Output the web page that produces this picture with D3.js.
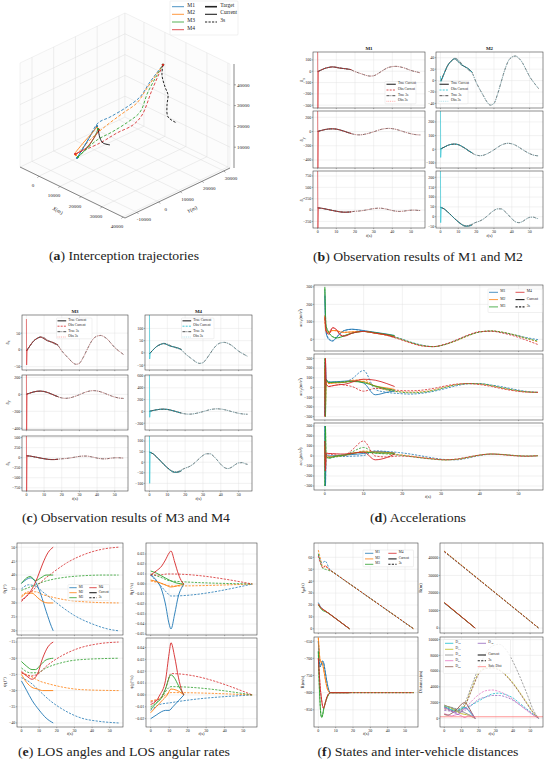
<!DOCTYPE html>
<html>
<head>
<meta charset="utf-8">
<script src="https://cdn.jsdelivr.net/npm/d3@7"></script>
<style>
  body { margin: 0; background: #fff; }
  svg, text { font-family: "Liberation Serif", "DejaVu Serif", serif; }
  text { fill: #222; }
</style>
</head>
<body>
<script>
// ---------------- (a) 3D trajectories, points are [x, y, z] in metres ----------------
const traj3s = [
  [[2500,-380,2440],[5150,2130,11150],[7800,4160,19600],[10450,7100,22300],[13050,12420,25800],[15700,15850,30200],[18350,17880,37700],[21000,21300,45500]],
  [[2500,-865,4100],[5600,3960,11900],[8650,7490,17400],[11750,11840,22500],[14850,15270,27200],[17900,16960,35000],[21000,21300,45500]],
  [[2500,60,2700],[5600,5800,9500],[8650,9760,12900],[11750,14160,17100],[14850,16670,22100],[17900,17390,32900],[21000,21300,45500]],
  [[2500,-1300,4800],[5600,7200,7400],[8650,12080,11300],[11750,16430,14500],[14850,17590,20200],[17900,19230,32900],[21000,21300,45500]]
];
const trajCur = [
  [[2500,-380,2440],[4000,1840,8300],[5500,3630,13900],[7000,4450,17600]],
  [[2500,-1300,5300],[4000,1400,10000],[5000,4110,13400],[6500,4930,16700]],
  [[2500,60,2700],[4000,3240,6700],[5500,4980,11800],[7000,4930,15900]],
  [[2500,-1300,4800],[4000,2320,6600],[5500,4540,11100],[7000,5370,15300]]
];
const targetCur = [[7000,4930,16400],[7500,5370,11600],[8000,6240,9100],[9000,8500,7500]];
const target3s = [[21000,21300,45500],[21500,20340,41400],[22000,21260,35400],[22500,22170,31300],[23000,21210,27200],[24000,20730,22200],[25000,23860,18200]];
const xTicks3 = [0, 10000, 20000, 30000, 40000];
const yTicks3 = [-10000, 0, 10000, 20000, 30000];
const zTicks3 = [10000, 20000, 30000, 40000];

// ---------------- (b)(c) target acceleration, true values ----------------
const tTgt = [0,2,4,6,8,10,12,14,16,18,20,22,24,26,28,30,32,34,36,38,40,42,44,46,48,50,52,54,55];
const axTgt3s = [-3,12,26,34,39,36,29,23,18,12,-3,-15,-26,-37,-43,-40,-24,-3,18,34,41,43,39,31,19,7,-2,-10,-14];
const ayTgt3s = [2,15,28,36,38,33,20,4,-14,-30,-42,-47,-44,-34,-20,-4,14,30,40,44,40,30,15,-2,-18,-32,-42,-47,-48];
const azTgt3s = [48,40,25,8,-10,-25,-38,-45,-44,-36,-28,-22,-12,2,18,32,40,40,28,10,-10,-25,-30,-24,-12,-3,-2,-8,-10];
const tTgtCur = [0,2,4,6,8,10,12,14,16,18];
const axTgtCur = [-3,12,26,34,38,33,27,24,20,14];
const ayTgtCur = [2,15,28,36,38,34,22,6,-12,-28];
const azTgtCur = [48,40,25,8,-10,-26,-40,-48,-47,-40];
// observer start transients [high, low] for rows x, y, z
const spikeM1 = [[175,-330],[290,-515],[860,-400]];
const spikeM2 = [[8,-14],[285,-60],[235,-30]];
const spikeM3 = [[92,-45],[230,-425],[545,-835]];
const spikeM4 = [[160,-25],[620,-100],[130,-100]];

// ---------------- (d) missile accelerations ----------------
const tD3s = [0,0.15,0.3,1,2,3,4,5,7,10,13,16,19,22,25,28,31,34,37,40,43,46,49,52,55];
const tDCur = [0,0.15,0.3,1,2,3,4,5,7,10,13,16,18];
const accXCur = [
  [250,100,40,0,-10,10,35,50,58,50,40,30,22],
  [130,60,45,40,50,50,42,40,42,45,35,25,18],
  [300,150,80,40,15,8,12,20,35,45,38,28,20],
  [130,90,50,30,65,55,25,18,35,45,35,25,12]
];
const accX3s = [
  [280,120,50,5,-8,12,35,50,57,48,38,25,8,-15,-33,-42,-30,-5,22,42,47,38,25,10,-2],
  [140,70,50,45,50,48,42,40,42,45,36,24,5,-18,-36,-42,-30,-8,20,42,48,40,25,5,-15],
  [290,150,80,40,15,8,12,20,35,45,36,24,6,-16,-35,-42,-30,-6,22,42,48,40,25,6,-10],
  [120,80,50,30,68,55,25,20,35,45,35,22,2,-20,-38,-42,-28,-3,25,44,46,35,18,-5,-30]
];
const accYCur = [
  [-280,250,80,55,58,60,62,65,70,45,-75,-50,-35],
  [200,-200,60,40,45,48,50,52,70,60,15,-5,-20],
  [300,-300,80,50,52,54,55,56,62,50,15,-15,-30],
  [-300,300,40,10,18,25,30,32,55,85,75,40,10]
];
const accY3s = [
  [-290,260,90,60,55,52,50,52,90,175,-20,-50,-62,-68,-60,-40,-12,18,38,40,25,5,-20,-40,-50],
  [200,-210,70,40,45,48,50,55,75,80,10,-25,-42,-48,-44,-25,5,30,40,36,18,-8,-30,-45,-50],
  [300,-300,80,50,52,54,55,58,65,60,10,-25,-45,-55,-50,-32,0,28,40,38,20,-5,-28,-45,-50],
  [-300,300,40,10,18,25,30,25,10,-38,-10,-15,-30,-34,-28,-10,15,35,40,30,10,-15,-35,-48,-50]
];
const accZCur = [
  [300,-300,20,0,2,5,8,10,15,25,45,40,30],
  [100,-100,10,-10,-5,0,5,10,25,40,40,35,30],
  [-300,300,0,-20,-10,0,5,10,25,40,30,30,25],
  [150,-150,30,25,24,22,20,20,28,38,-38,-15,20]
];
const accZ3s = [
  [300,-300,10,-10,-8,-6,-5,-5,-2,5,52,45,35,20,0,-20,-35,-38,-20,5,18,15,5,0,3],
  [150,-150,10,-15,-10,-5,0,5,20,50,35,25,15,0,-15,-28,-38,-35,-15,8,20,15,5,0,3],
  [-300,300,0,-25,-15,-8,-2,5,40,85,30,20,10,-5,-20,-32,-40,-32,-12,10,20,14,4,-2,2],
  [150,-150,25,20,15,10,5,5,60,150,0,-10,0,-5,-18,-30,-38,-30,-10,10,20,12,2,-3,2]
];

// ---------------- (e) LOS angles [t, value] ----------------
const thetaCur = [
  [[0,37],[3,38.5],[5,39],[8,37.5],[11,33],[14,27],[17,21.5],[18,20]],
  [[0,32],[3,33.5],[6,33.5],[9,32],[12,30.5],[15,30],[18,30]],
  [[0,37],[3,39],[5,39.5],[8,38],[11,39],[14,40],[18,40]],
  [[0,31],[3,32.5],[6,35],[9,39],[12,44],[15,48],[18,50]]
];
const theta3s = [
  [[0,35],[4,36.5],[8,36],[12,34],[16,32],[22,29],[30,25.5],[40,22.5],[50,20.5],[55,20]],
  [[0,32.5],[4,34],[8,34],[12,33],[18,32],[26,31],[36,30.4],[46,30.1],[55,30]],
  [[0,34.5],[4,35.5],[8,36.5],[12,37.5],[18,38.5],[26,39.3],[36,39.8],[46,40],[55,40]],
  [[0,30.5],[4,33],[8,35.5],[12,38],[18,41],[26,44.5],[36,47.5],[46,49.3],[55,50]]
];
const thetaRateCur = [
  [[0,0.009],[3,0.004],[6,-0.006],[8,-0.02],[10,-0.04],[11,-0.045],[13,-0.03],[15,-0.012],[17,-0.003],[18,0]],
  [[0,0.004],[4,0.002],[8,-0.001],[11,-0.003],[14,-0.002],[18,0]],
  [[0,0.013],[3,0.011],[6,0.008],[10,0.004],[14,0.001],[18,0]],
  [[0,0.009],[3,0.013],[6,0.018],[8,0.024],[10,0.031],[11,0.033],[13,0.022],[15,0.01],[17,0.002],[18,0]]
];
const thetaRate3s = [
  [[0,0.009],[3,0.003],[6,-0.003],[9,-0.009],[11,-0.012],[55,0]],
  [[0,0.003],[5,0.001],[11,-0.002],[55,0]],
  [[0,0.01],[5,0.007],[11,0.003],[55,0]],
  [[0,0.009],[5,0.009],[9,0.01],[11,0.01],[55,0]]
];
const psiCur = [
  [[0,-27],[3,-30],[6,-33],[10,-36],[14,-38.5],[18,-40]],
  [[0,-25],[3,-27.5],[6,-29],[9,-29.5],[12,-30],[18,-30]],
  [[0,-21],[3,-22.5],[6,-23.5],[8,-23.5],[11,-22],[14,-20.5],[18,-20]],
  [[0,-24],[3,-25.5],[6,-26.5],[9,-25],[12,-20],[15,-16.5],[18,-15]]
];
const psi3s = [
  [[0,-26],[5,-27.5],[10,-30],[16,-33],[24,-36],[34,-38.5],[44,-39.5],[55,-40]],
  [[0,-24.5],[5,-25.5],[10,-27],[16,-28],[24,-29],[34,-29.7],[55,-30]],
  [[0,-23],[5,-24.5],[9,-24.5],[14,-23],[22,-21.5],[32,-20.5],[55,-20]],
  [[0,-24.5],[5,-25.5],[9,-25],[14,-22.5],[22,-19.5],[32,-17],[44,-15.5],[55,-15]]
];
const psiRateCur = [
  [[0,-0.02],[3,-0.017],[6,-0.014],[8,-0.013],[10,-0.013],[12,-0.01],[15,-0.005],[18,0]],
  [[0,-0.015],[3,-0.01],[6,-0.005],[9,0],[11,0.005],[14,0.004],[18,0]],
  [[0,-0.012],[3,-0.007],[6,-0.002],[8,0.005],[11,0.017],[13,0.014],[15,0.008],[18,0]],
  [[0,-0.008],[3,-0.005],[5,0],[8,0.012],[10,0.035],[11,0.044],[13,0.032],[15,0.015],[17,0.003],[18,0]]
];
const psiRate3s = [
  [[0,-0.013],[5,-0.008],[11,-0.0065],[15,-0.0055],[55,0]],
  [[0,-0.005],[5,-0.003],[11,0.002],[55,0]],
  [[0,-0.01],[5,-0.004],[11,0.007],[55,0]],
  [[0,-0.006],[5,-0.003],[8,0.005],[11,0.018],[55,0]]
];

// ---------------- (f) states and distances [t, value] ----------------
const tgoCur = [
  [[0,22],[1,19],[2,17],[3,16],[4,15],[6,13],[18,0]],
  [[0,21],[1,18],[2,16.5],[3,16],[4,15],[6,13],[18,0]],
  [[0,20],[1,18],[2,16],[3,15],[4,14.5],[6,13],[18,0]],
  [[0,20.5],[1,18.5],[2,17],[3,16],[4,15],[6,13],[18,0]]
];
const tgo3s = [
  [[0,62],[1,58],[2,55],[3,56],[4,57],[5,55],[6,51],[8,48],[55,0]],
  [[0,66],[1,60],[2,54],[3,52],[4,53],[5,51],[6,50],[8,48],[55,0]],
  [[0,63],[1,57],[2,52],[3,50],[4,50],[5,49.5],[6,49],[8,48],[55,0]],
  [[0,61],[1,56],[2,52],[3,51],[4,53],[5,52],[6,50],[8,48],[55,0]]
];
const rangeCur = [[[0,14300],[18,0]],[[0,14600],[18,0]],[[0,14400],[18,0]],[[0,14500],[18,0]]];
const range3s = [[[0,43500],[55,0]],[[0,43900],[55,0]],[[0,43700],[55,0]],[[0,43600],[55,0]]];
const rdotStart = [
  [[0,-650],[0.5,-700],[1,-725],[1.5,-720],[2,-712],[2.5,-708],[3,-712],[4,-740],[5,-770],[6,-792],[7,-800]],
  [[0,-640],[0.5,-680],[1,-705],[1.5,-712],[2,-710],[2.5,-718],[3,-730],[4,-760],[5,-785],[6,-797],[7,-800]],
  [[0,-680],[0.5,-770],[1,-830],[1.5,-865],[2,-872],[2.5,-865],[3,-850],[4,-830],[5,-815],[6,-805],[7,-800]],
  [[0,-700],[0.5,-740],[1,-780],[1.5,-805],[2,-825],[2.5,-840],[3,-845],[4,-830],[5,-812],[6,-803],[7,-800]]
];
const rdotFinal = -800;
const distNames = ['D_{12}','D_{13}','D_{14}','D_{23}','D_{24}','D_{34}'];
const distColors = ['#17becf','#bcbd22','#8c8c8c','#e377c2','#8c564b','#9467bd'];
const tDist3s = [0,4,8,12,16,20,24,28,32,36,40,44,48,52,55];
const dist3s = [
  [1500,1300,1100,1300,1700,2200,2700,3100,3200,3000,2600,1900,1200,500,0],
  [1400,1200,1000,1700,3800,5800,6400,6500,6200,5500,4500,3300,2000,700,0],
  [1600,1400,1200,2000,4200,6400,8200,9200,9400,8700,7200,5300,3200,1000,0],
  [1300,1100,800,1200,2200,3000,3500,3600,3400,3000,2400,1700,1000,400,0],
  [1200,1000,900,1600,3600,5600,6300,6400,6100,5400,4400,3200,1900,650,0],
  [1000,900,700,1000,1700,2400,2700,2900,2900,2700,2300,1700,1100,400,0]
];
const tDistCur = [0,2,4,6,8,10,12,14,16,18];
const distCur = [
  [1500,1300,1100,1000,900,1300,1400,1000,500,0],
  [1600,1500,1300,1100,800,600,500,400,200,0],
  [1700,1500,1400,1200,1000,900,700,500,300,0],
  [600,450,300,400,500,300,100,300,250,0],
  [500,400,600,900,1300,1800,2000,1500,700,0],
  [1400,1200,900,700,500,900,1300,1100,600,0]
];
const safeDist = 200;

// ================= drawing =================
const SERIF = '"Liberation Serif", "DejaVu Serif", serif';
const svg = d3.select('body').append('svg').attr('width', 550).attr('height', 762).attr('font-family', SERIF);
const defs = svg.append('defs');
const COL = ['#1f77b4', '#ff7f0e', '#2ca02c', '#d62728'];
const DASH = '2.2,1.3';
const T_DOM = [-2.5, 57.5];
const T_TICKS = [0, 10, 20, 30, 40, 50];
const TICK_FS = 4;

// text with _{sub} parts
function rich(sel, str, fs) {
  const parts = str.split(/(_\{[^}]*\})/).filter(s => s.length);
  let down = false;
  parts.forEach(p => {
    if (p.startsWith('_{')) {
      sel.append('tspan').attr('font-size', fs * 0.72).attr('dy', fs * 0.3).text(p.slice(2, -1));
      down = true;
    } else {
      sel.append('tspan').attr('dy', down ? -fs * 0.3 : 0).text(p);
      down = false;
    }
  });
  return sel;
}

let clipN = 0;
function axes(xr, yr, xDom, yDom, o) {
  o = Object.assign({ xTicks: T_TICKS, yTicks: [], xLabels: false, fmt: d3.format('d') }, o);
  const [x0, x1] = xr, [y0, y1] = yr;
  const x = d3.scaleLinear().domain(xDom).range([x0, x1]);
  const y = d3.scaleLinear().domain(yDom).range([y1, y0]);
  const back = svg.append('g');
  back.append('rect').attr('x', x0).attr('y', y0).attr('width', x1 - x0).attr('height', y1 - y0).attr('fill', '#fff');
  back.selectAll(null).data(o.xTicks).join('line')
    .attr('x1', d => x(d)).attr('x2', d => x(d)).attr('y1', y0).attr('y2', y1)
    .attr('stroke', '#e2e2e2').attr('stroke-width', 0.45);
  back.selectAll(null).data(o.yTicks).join('line')
    .attr('y1', d => y(d)).attr('y2', d => y(d)).attr('x1', x0).attr('x2', x1)
    .attr('stroke', '#e2e2e2').attr('stroke-width', 0.45);
  const id = 'clip' + clipN++;
  defs.append('clipPath').attr('id', id).append('rect')
    .attr('x', x0).attr('y', y0).attr('width', x1 - x0).attr('height', y1 - y0);
  const plot = svg.append('g').attr('clip-path', `url(#${id})`);
  const front = svg.append('g');
  front.append('rect').attr('x', x0).attr('y', y0).attr('width', x1 - x0).attr('height', y1 - y0)
    .attr('fill', 'none').attr('stroke', '#444').attr('stroke-width', 0.6);
  front.selectAll(null).data(o.xTicks).join('line')
    .attr('x1', d => x(d)).attr('x2', d => x(d)).attr('y1', y1).attr('y2', y1 + 1.2)
    .attr('stroke', '#444').attr('stroke-width', 0.4);
  front.selectAll(null).data(o.yTicks).join('line')
    .attr('y1', d => y(d)).attr('y2', d => y(d)).attr('x1', x0 - 1.2).attr('x2', x0)
    .attr('stroke', '#444').attr('stroke-width', 0.4);
  if (o.xLabels) {
    front.selectAll(null).data(o.xTicks).join('text')
      .attr('x', d => x(d)).attr('y', y1 + 5).attr('text-anchor', 'middle')
      .attr('font-size', TICK_FS).text(d => d3.format('d')(d));
  }
  front.selectAll(null).data(o.yTicks).join('text')
    .attr('x', x0 - 1.8).attr('y', d => y(d)).attr('dy', '0.35em').attr('text-anchor', 'end')
    .attr('font-size', TICK_FS).text(d => o.fmt(d));
  return { x, y, plot, front };
}

function draw(ax, pts, color, width, dash, curve) {
  ax.plot.append('path').datum(pts)
    .attr('d', d3.line().x(d => ax.x(d[0])).y(d => ax.y(d[1])).curve(curve || d3.curveMonotoneX))
    .attr('fill', 'none').attr('stroke', color).attr('stroke-width', width)
    .attr('stroke-dasharray', dash || null).attr('stroke-linejoin', 'round');
}

function ylabel(x, yc, str, fs) {
  rich(svg.append('text').attr('transform', `translate(${x},${yc}) rotate(-90)`)
    .attr('text-anchor', 'middle').attr('font-size', fs), str, fs);
}
function xlabel(xc, y, fs) {
  const t = svg.append('text').attr('x', xc).attr('y', y).attr('text-anchor', 'middle').attr('font-size', fs);
  t.append('tspan').attr('font-style', 'italic').text('t');
  t.append('tspan').text('(s)');
}

function legend(box, colX, rowY, len, fs, items) {
  const g = svg.append('g');
  g.append('rect').attr('x', box[0]).attr('y', box[1]).attr('width', box[2] - box[0]).attr('height', box[3] - box[1])
    .attr('rx', 0.8).attr('fill', '#fff').attr('fill-opacity', 0.85).attr('stroke', '#d8d8d8').attr('stroke-width', 0.4);
  items.forEach(it => {
    const x = colX[it.c], y = rowY[it.r];
    g.append('line').attr('x1', x).attr('x2', x + len).attr('y1', y).attr('y2', y)
      .attr('stroke', it.color).attr('stroke-width', it.w || 0.8).attr('stroke-dasharray', it.dash || null);
    rich(g.append('text').attr('x', x + len + fs * 0.6).attr('y', y).attr('dy', '0.35em').attr('font-size', fs), it.label, fs);
  });
}

function caption(cx, y, letter, rest, width) {
  const t = svg.append('text').attr('x', cx).attr('y', y).attr('text-anchor', 'middle')
    .attr('font-size', 12.5).attr('textLength', width).attr('lengthAdjust', 'spacingAndGlyphs');
  t.append('tspan').text('(');
  t.append('tspan').attr('font-weight', 'bold').text(letter);
  t.append('tspan').text(') ' + rest);
}

const missileLegend = [
  { label: 'M1', color: COL[0], c: 0, r: 0 }, { label: 'M2', color: COL[1], c: 0, r: 1 },
  { label: 'M3', color: COL[2], c: 0, r: 2 }, { label: 'M4', color: COL[3], c: 1, r: 0 },
  { label: 'Current', color: '#222', w: 1.1, c: 1, r: 1 }, { label: '3s', color: '#222', w: 1.1, dash: DASH, c: 1, r: 2 }
];

// ---------- (a) ----------
const xs3 = d3.scaleLinear().domain([-9000, 41000]).range([0, 1]);
const ys3 = d3.scaleLinear().domain([-15500, 32800]).range([0, 1]);
const zs3 = d3.scaleLinear().domain([0, 50000]).range([0, 1]);
function proj(p) {
  const a = xs3(p[0]), b = ys3(p[1]), c = zs3(p[2]);
  return [20 + 105 * a + 105 * b, 167 + 51 * a - 50 * b - 104 * c];
}
{
  const [xa, xb] = xs3.domain(), [ya, yb] = ys3.domain(), [za, zb] = zs3.domain();
  const g = svg.append('g');
  const panes = [
    [[xa, ya, za], [xb, ya, za], [xb, yb, za], [xa, yb, za]],
    [[xa, ya, za], [xa, yb, za], [xa, yb, zb], [xa, ya, zb]],
    [[xa, yb, za], [xb, yb, za], [xb, yb, zb], [xa, yb, zb]]
  ];
  g.selectAll(null).data(panes).join('polygon')
    .attr('points', d => d.map(proj).join(' '))
    .attr('fill', '#fcfcfc').attr('stroke', '#e4e4e4').attr('stroke-width', 0.5);
  const segs = [];
  xTicks3.forEach(v => { segs.push([[v, ya, za], [v, yb, za]]); segs.push([[v, yb, za], [v, yb, zb]]); });
  yTicks3.forEach(v => { segs.push([[xa, v, za], [xb, v, za]]); segs.push([[xa, v, za], [xa, v, zb]]); });
  zTicks3.forEach(v => { segs.push([[xa, ya, v], [xa, yb, v]]); segs.push([[xa, yb, v], [xb, yb, v]]); });
  g.selectAll(null).data(segs).join('line')
    .attr('x1', d => proj(d[0])[0]).attr('y1', d => proj(d[0])[1])
    .attr('x2', d => proj(d[1])[0]).attr('y2', d => proj(d[1])[1])
    .attr('stroke', '#dcdcdc').attr('stroke-width', 0.5);

  // axes
  const axisLine = (p, q, dx) => g.append('line')
    .attr('x1', proj(p)[0] + dx).attr('y1', proj(p)[1]).attr('x2', proj(q)[0] + dx).attr('y2', proj(q)[1])
    .attr('stroke', '#555').attr('stroke-width', 0.7);
  axisLine([xa, ya, za], [xb, ya, za], 0);
  axisLine([xb, ya, za], [xb, yb, za], 0);
  axisLine([xb, yb, za], [xb, yb, zb], 4);
  xTicks3.forEach(v => {
    const p = proj([v, ya, za]);
    g.append('line').attr('x1', p[0]).attr('y1', p[1]).attr('x2', p[0] - 1.5).attr('y2', p[1] + 1.6).attr('stroke', '#555').attr('stroke-width', 0.5);
    g.append('text').attr('x', p[0] - 6).attr('y', p[1] + 11).attr('text-anchor', 'middle').attr('font-size', 5).text(v);
  });
  yTicks3.forEach(v => {
    const p = proj([xb, v, za]);
    g.append('line').attr('x1', p[0]).attr('y1', p[1]).attr('x2', p[0] + 1.5).attr('y2', p[1] + 1.6).attr('stroke', '#555').attr('stroke-width', 0.5);
    g.append('text').attr('x', p[0] + 7).attr('y', p[1] + 9).attr('text-anchor', 'middle').attr('font-size', 5).text(d3.format('d')(v).replace('−', '-'));
  });
  zTicks3.forEach(v => {
    const p = proj([xb, yb, v]);
    g.append('line').attr('x1', p[0] + 4).attr('y1', p[1]).attr('x2', p[0] + 6).attr('y2', p[1]).attr('stroke', '#555').attr('stroke-width', 0.5);
    g.append('text').attr('x', p[0] + 7).attr('y', p[1]).attr('dy', '0.35em').attr('font-size', 5).text(v);
  });
  const lab = (x, y, rot, s) => {
    const t = g.append('text').attr('transform', `translate(${x},${y}) rotate(${rot})`).attr('text-anchor', 'middle').attr('font-size', 5.2);
    t.append('tspan').attr('font-style', 'italic').text(s);
    t.append('tspan').text('(m)');
  };
  lab(57, 212, 27, 'X');
  lab(193, 211, -26, 'Y');

  const line3 = d3.line().curve(d3.curveCatmullRom);
  traj3s.forEach((p, i) => g.append('path').attr('d', line3(p.map(proj))).attr('fill', 'none')
    .attr('stroke', COL[i]).attr('stroke-width', 0.85).attr('stroke-dasharray', '3,1.8'));
  g.append('path').attr('d', line3(target3s.map(proj))).attr('fill', 'none')
    .attr('stroke', '#222').attr('stroke-width', 1).attr('stroke-dasharray', '2.5,1.5');
  trajCur.forEach((p, i) => g.append('path').attr('d', line3(p.map(proj))).attr('fill', 'none')
    .attr('stroke', COL[i]).attr('stroke-width', 0.9));
  g.append('path').attr('d', line3(targetCur.map(proj))).attr('fill', 'none')
    .attr('stroke', '#222').attr('stroke-width', 1);
  traj3s.forEach((p, i) => {
    const e = proj(p[p.length - 1]), s = proj(p[0]);
    g.append('circle').attr('cx', e[0]).attr('cy', e[1]).attr('r', 1.2).attr('fill', COL[i]);
    g.append('circle').attr('cx', s[0]).attr('cy', s[1]).attr('r', 1.1).attr('fill', COL[i]);
  });
  [...trajCur].reverse().forEach((p, k) => {
    const e = proj(p[p.length - 1]);
    g.append('circle').attr('cx', e[0]).attr('cy', e[1]).attr('r', 1.1).attr('fill', COL[3 - k]);
  });

  legend([170, 1, 238, 35], [172, 205], [6.7, 14.3, 22, 29.7], 12, 5.5, [
    { label: 'M1', color: COL[0], c: 0, r: 0 }, { label: 'M2', color: COL[1], c: 0, r: 1 },
    { label: 'M3', color: COL[2], c: 0, r: 2 }, { label: 'M4', color: COL[3], c: 0, r: 3 },
    { label: 'Target', color: '#222', w: 1.6, c: 1, r: 0 }, { label: 'Current', color: '#222', w: 1.1, c: 1, r: 1 },
    { label: '3s', color: '#222', w: 1.1, dash: DASH, c: 1, r: 2 }
  ]);
}
caption(124, 260, 'a', 'Interception trajectories', 150);

// ---------- (b) and (c) ----------
function obsColumn(cols, rows, spikes, doms, ticks, cObs, cObs2, title, leg, yLabX) {
  const tc = [d3.zip(tTgtCur, axTgtCur), d3.zip(tTgtCur, ayTgtCur), d3.zip(tTgtCur, azTgtCur)];
  const t3 = [d3.zip(tTgt, axTgt3s), d3.zip(tTgt, ayTgt3s), d3.zip(tTgt, azTgt3s)];
  rows.forEach((r, i) => {
    const ax = axes(cols, r, T_DOM, doms[i], { yTicks: ticks[i], xLabels: i === 2 });
    const spike = [[0, spikes[i][0]], [0.12, spikes[i][1]], [0.4, tc[i][0][1]]];
    const obsCur = [[0.4, tc[i][0][1]]].concat(tc[i].slice(1));
    const obs3s = [[0.4, t3[i][0][1]]].concat(t3[i].slice(1));
    draw(ax, t3[i], '#222', 0.7, '3,1,0.8,1');
    draw(ax, obs3s, cObs2, 0.7, '0.9,0.9');
    draw(ax, tc[i], '#4a4a4a', 1.0);
    draw(ax, obsCur, cObs, 0.7, '2,1.2');
    draw(ax, spike, cObs, 0.6, null, d3.curveLinear);
    if (yLabX !== null) ylabel(yLabX, (r[0] + r[1]) / 2, ['â_{x}', 'â_{y}', 'â_{z}'][i], 5);
  });
  svg.append('text').attr('x', (cols[0] + cols[1]) / 2).attr('y', rows[0][0] - 1.6)
    .attr('text-anchor', 'middle').attr('font-size', 5).attr('font-weight', 'bold').text(title);
  xlabel((cols[0] + cols[1]) / 2, rows[2][1] + 9, 4.6);
  legend(leg.box, [leg.x], leg.rows, leg.len, 3.5, [
    { label: 'True Current', color: '#4a4a4a', w: 1.3, c: 0, r: 0 },
    { label: 'Obs Current', color: cObs, dash: '2,1.2', c: 0, r: 1 },
    { label: 'True 3s', color: '#222', dash: '3,1,0.8,1', c: 0, r: 2 },
    { label: 'Obs 3s', color: cObs2, dash: '0.9,0.9', c: 0, r: 3 }
  ]);
}
const rowsB = [[52, 108], [111, 168], [171, 228]];
obsColumn([313, 425], rowsB, spikeM1, [[-325, 170], [-512, 288], [-395, 860]],
  [[-300, -200, -100, 0, 100], [-400, -200, 0, 200], [-250, 0, 250, 500, 750]],
  '#d62728', '#ff9896', 'M1', { box: [385, 81.5, 416, 103.8], x: 386.5, rows: [84.3, 90, 95.7, 101.3], len: 9.3 }, 303);
obsColumn([436, 543], rowsB, spikeM2, [[-48, 50], [-137, 280], [-57, 232]],
  [[-40, -20, 0, 20, 40], [-100, 0, 100, 200], [-50, 0, 50, 100, 150, 200]],
  '#17becf', '#9edae5', 'M2', { box: [438, 81.5, 468, 103.8], x: 439.5, rows: [84.3, 90, 95.7, 101.3], len: 9.3 }, null);
caption(418, 261, 'b', 'Observation results of M1 and M2', 210);

const rowsC = [[315, 370], [375, 430], [436, 491]];
obsColumn([22, 128], rowsC, spikeM3, [[-60, 104], [-420, 228], [-830, 540]],
  [[-50, 0, 50], [-400, -200, 0, 200], [-750, -500, -250, 0, 250, 500]],
  '#d62728', '#ff9896', 'M3', { box: [56.5, 318, 92, 338.8], x: 57.5, rows: [320.8, 326.2, 331.7, 337], len: 8.7 }, 8.5);
obsColumn([145, 252], rowsC, spikeM4, [[-70, 155], [-315, 617], [-136, 124]],
  [[-50, 0, 50, 100], [-200, 0, 200, 400, 600], [-100, -50, 0, 50, 100]],
  '#17becf', '#9edae5', 'M4', { box: [181.5, 318, 214, 338.8], x: 182.5, rows: [320.8, 326.2, 331.7, 337], len: 8.7 }, null);
caption(126, 522, 'c', 'Observation results of M3 and M4', 208);

// ---------- (d) ----------
{
  const rows = [[285, 351], [354, 420], [423, 490]];
  const doms = [[-67, 311], [-335, 345], [-340, 330]];
  const ticks = [[0, 100, 200, 300], [-300, -200, -100, 0, 100, 200, 300], [-300, -200, -100, 0, 100, 200, 300]];
  const cur = [accXCur, accYCur, accZCur], s3 = [accX3s, accY3s, accZ3s];
  const labs = ['acc_{x}(m/s²)', 'acc_{y}(m/s²)', 'acc_{z}(m/s²)'];
  rows.forEach((r, i) => {
    const ax = axes([314, 543], r, [-2.8, 56.3], doms[i], { yTicks: ticks[i], xLabels: i === 2 });
    s3[i].forEach((v, m) => draw(ax, d3.zip(tD3s, v), COL[m], 0.8, DASH));
    cur[i].forEach((v, m) => draw(ax, d3.zip(tDCur, v), COL[m], 0.9));
    ylabel(302, (r[0] + r[1]) / 2, labs[i], 4.4);
  });
  xlabel(428, 498, 4.6);
  legend([488, 289, 542.3, 312.5], [489, 515.5], [292.3, 299.6, 306.9], 9, 3.7, missileLegend);
}
caption(418, 522, 'd', 'Accelerations', 96);

// ---------- (e) ----------
{
  const L = [17, 123], R = [146, 257], top = [543, 635], bot = [638, 727];
  const a1 = axes(L, top, T_DOM, [18.5, 51.5], { yTicks: [20, 25, 30, 35, 40, 45, 50] });
  const a2 = axes(R, top, T_DOM, [-0.051, 0.041], { yTicks: [-0.05, -0.04, -0.03, -0.02, -0.01, 0, 0.01, 0.02, 0.03], fmt: d3.format('.2f') });
  const a3 = axes(L, bot, T_DOM, [-41.25, -13.75], { yTicks: [-40, -35, -30, -25, -20, -15], xLabels: true });
  const a4 = axes(R, bot, T_DOM, [-0.027, 0.048], { yTicks: [-0.02, -0.01, 0, 0.01, 0.02, 0.03, 0.04], xLabels: true, fmt: d3.format('.2f') });
  [[a1, thetaCur, theta3s], [a2, thetaRateCur, thetaRate3s], [a3, psiCur, psi3s], [a4, psiRateCur, psiRate3s]]
    .forEach(([ax, c, s]) => {
      s.forEach((p, m) => draw(ax, p, COL[m], 0.8, DASH));
      c.forEach((p, m) => draw(ax, p, COL[m], 0.9));
    });
  ylabel(6, 589, 'θ_{L}(°)', 4.6);
  ylabel(133, 589, 'θ̇_{L}(°/s)', 4.6);
  ylabel(6, 682, 'ψ_{L}(°)', 4.6);
  ylabel(133, 682, 'ψ̇_{L}(°/s)', 4.6);
  xlabel(70, 735, 4.6);
  xlabel(201.5, 735, 4.6);
  legend([68, 584.6, 109.5, 600.6], [69.3, 89.3], [587.7, 592.7, 597.7], 7.4, 3.3, missileLegend);
}
caption(124, 756, 'e', 'LOS angles and LOS angular rates', 212);

// ---------- (f) ----------
{
  const L = [314, 418], R = [440, 543], top = [543, 633], bot = [637, 727];
  const b1 = axes(L, top, T_DOM, [-3.5, 72], { yTicks: [0, 10, 20, 30, 40, 50, 60] });
  const b2 = axes(R, top, T_DOM, [-2800, 48500], { yTicks: [0, 10000, 20000, 30000, 40000] });
  const b3 = axes(L, bot, T_DOM, [-900, -638], { yTicks: [-850, -800, -750, -700, -650], xLabels: true });
  const b4 = axes(R, bot, T_DOM, [-1100, 10330], { yTicks: [0, 2000, 4000, 6000, 8000, 10000], xLabels: true });
  const lin = d3.curveLinear;
  [[b1, tgoCur, tgo3s], [b2, rangeCur, range3s]].forEach(([ax, c, s]) => {
    s.forEach((p, m) => draw(ax, p, COL[m], 0.8, DASH, lin));
    c.forEach((p, m) => draw(ax, p, COL[m], 0.9, null, lin));
  });
  rdotStart.forEach((p, m) => draw(b3, p.concat([[55, rdotFinal]]), COL[m], 0.8, DASH));
  rdotStart.forEach((p, m) => draw(b3, p.concat([[18, rdotFinal]]), COL[m], 0.9));
  dist3s.forEach((v, k) => draw(b4, d3.zip(tDist3s, v), distColors[k], 0.8, DASH));
  distCur.forEach((v, k) => draw(b4, d3.zip(tDistCur, v), distColors[k], 0.9));
  draw(b4, [[b4.x.domain()[0], safeDist], [b4.x.domain()[1], safeDist]], '#ff7b7b', 0.8, null, lin);
  ylabel(303.5, 588, 't_{go}(s)', 4.6);
  ylabel(422, 588, 'R(m)', 4.6);
  ylabel(303.5, 682, 'Ṙ(m/s)', 4.6);
  ylabel(422, 682, 'Distance(m)', 4.6);
  xlabel(366, 735, 4.6);
  xlabel(491.5, 735, 4.6);
  legend([363, 550, 413.5, 566.8], [365, 388.3], [553.3, 558.9, 564.3], 8.3, 3.4, missileLegend);
  const dl = distNames.map((n, k) => ({ label: n, color: distColors[k], c: k < 5 ? 0 : 1, r: k < 5 ? k : 0 }));
  dl.push({ label: 'Current', color: '#222', w: 1.1, c: 1, r: 2 });
  dl.push({ label: '3s', color: '#222', w: 1.1, dash: DASH, c: 1, r: 3 });
  dl.push({ label: 'Safe Dist', color: '#ff7b7b', c: 1, r: 4 });
  legend([443.3, 639.5, 510.5, 673.5], [445, 477.7], [643.3, 649.3, 655, 660.7, 666.7], 8.3, 3.6, dl);
}
caption(418, 756, 'f', 'States and inter-vehicle distances', 201);
</script>
</body>
</html>
